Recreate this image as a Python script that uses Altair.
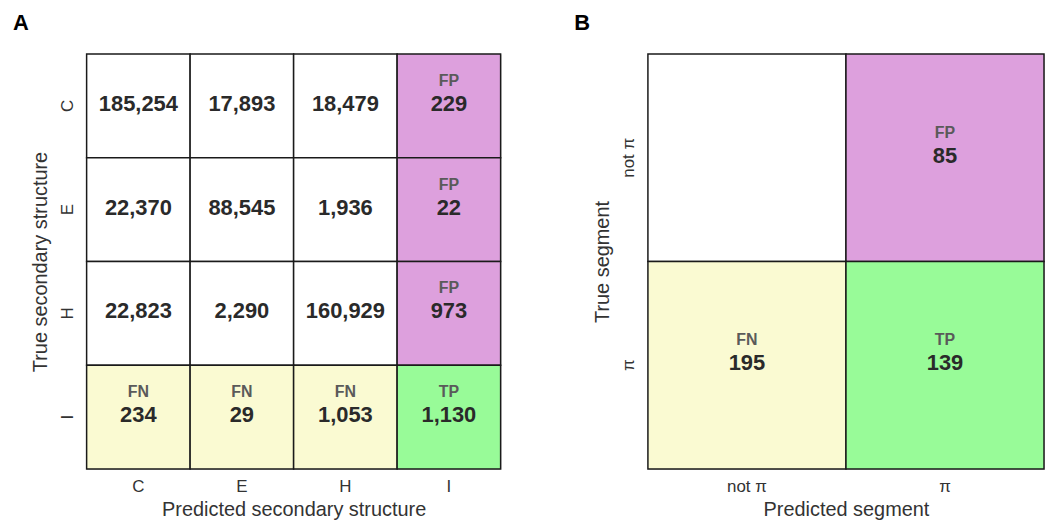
import altair as alt
import pandas as pd

# ---- Panel A data ----
a_classes = ["C", "E", "H", "I"]
a_values = [
    [185254, 17893, 18479, 229],
    [22370, 88545, 1936, 22],
    [22823, 2290, 160929, 973],
    [234, 29, 1053, 1130],
]
a_kinds = [
    ["", "", "", "FP"],
    ["", "", "", "FP"],
    ["", "", "", "FP"],
    ["FN", "FN", "FN", "TP"],
]

# ---- Panel B data ----
b_classes = ["not π", "π"]
b_values = [
    [None, 85],
    [195, 139],
]
b_kinds = [
    ["", "FP"],
    ["FN", "TP"],
]

kind_domain = ["", "FP", "FN", "TP"]
kind_range = ["#ffffff", "#DDA0DD", "#FAFAD2", "#98FB98"]

FONT = "Liberation Sans"


def make_df(classes, values, kinds):
    rows = []
    for i, t in enumerate(classes):
        for j, p in enumerate(classes):
            rows.append({"true": t, "pred": p, "value": values[i][j], "kind": kinds[i][j]})
    return pd.DataFrame(rows)


def panel(df, classes, xtitle, ytitle, letter, w, h, dx):
    base = alt.Chart(df).encode(
        x=alt.X("pred:N", sort=classes,
                scale=alt.Scale(paddingInner=0, paddingOuter=0),
                axis=alt.Axis(title=xtitle, labelAngle=0, ticks=False, domain=False,
                              labelFontSize=17, titleFontSize=20, labelPadding=10,
                              titlePadding=5, labelColor="#333", titleColor="#333",
                              titleFontWeight="normal", labelFont=FONT, titleFont=FONT)),
        y=alt.Y("true:N", sort=classes,
                scale=alt.Scale(paddingInner=0, paddingOuter=0),
                axis=alt.Axis(title=ytitle, labelAngle=-90, ticks=False, domain=False,
                              labelFontSize=17, titleFontSize=20, labelPadding=10,
                              titlePadding=8, labelColor="#333", titleColor="#333",
                              titleFontWeight="normal", labelFont=FONT, titleFont=FONT)),
    )
    rect = base.mark_rect(stroke="#1a1a1a", strokeWidth=1.5).encode(
        color=alt.Color("kind:N", scale=alt.Scale(domain=kind_domain, range=kind_range),
                        legend=None)
    )
    lab = base.transform_filter("datum.kind != ''").mark_text(
        font=FONT, fontSize=16, fontWeight="bold", color="#5a5a5a", dy=-25
    ).encode(text="kind:N")
    num = base.transform_filter("isValid(datum.value)").mark_text(
        font=FONT, fontSize=22, fontWeight="bold", color="#2a2a2a", dy=-2
    ).encode(text=alt.Text("value:Q", format=",d"))
    return alt.layer(rect, lab, num).properties(
        width=w, height=h,
        title=alt.TitleParams(letter, anchor="start", frame="group", fontSize=22,
                              fontWeight="bold", font=FONT, color="#000",
                              dx=dx, offset=18),
    )


dfa = make_df(a_classes, a_values, a_kinds)
dfb = make_df(b_classes, b_values, b_kinds)

pa = panel(dfa, a_classes, "Predicted secondary structure", "True secondary structure",
           "A", 416, 417, -74)
pb = panel(dfb, b_classes, "Predicted segment", "True segment", "B", 398, 417, -74)

chart = alt.hconcat(pa, pb, spacing=71).configure_view(stroke=None).configure(
    padding={"left": 4, "top": 2, "right": 0, "bottom": 0}
)

chart.save("out.html", embed_options={"renderer": "svg", "actions": False})
